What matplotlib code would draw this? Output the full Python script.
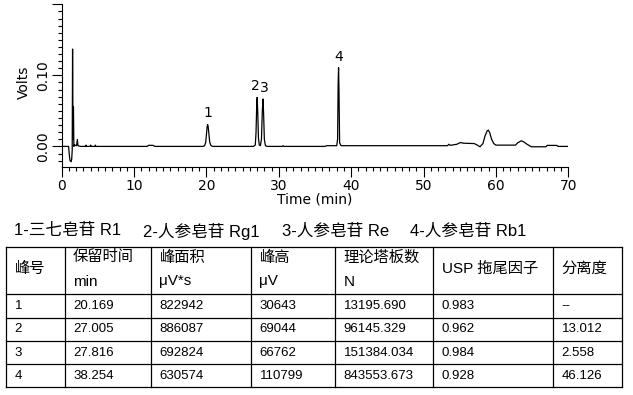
import matplotlib
matplotlib.use("Agg")
import matplotlib.pyplot as plt
from matplotlib.ticker import MultipleLocator, FixedLocator

# -------------------------------------------------
# Data
# -------------------------------------------------

# chromatogram trace (min, volts)
trace_t = [0.0, 0.95, 1.05, 1.15, 1.3, 1.38, 1.45, 1.5, 1.56, 1.62, 1.68, 1.75, 2.05,
           2.16, 2.25, 2.6, 3.3, 3.36, 3.42, 3.95, 4.0, 4.06, 4.6, 4.65, 4.71,
           11.8, 12.0, 12.6, 12.9,
           19.5, 19.75, 19.9, 20.0, 20.1, 20.169, 20.25, 20.35, 20.45, 20.6, 20.8,
           26.5, 26.75, 26.85, 26.95, 27.005, 27.08, 27.18, 27.3, 27.45, 27.6, 27.72,
           27.816, 27.9, 28.0, 28.15, 28.4,
           30.5, 30.6, 30.7, 36.4, 36.6,
           38.0, 38.12, 38.2, 38.254, 38.31, 38.4, 38.6,
           53.3, 53.5, 53.7, 54.6, 55.1, 55.5, 57.0, 57.4, 57.8, 58.2, 58.5, 58.8,
           58.95, 59.15, 59.4, 59.7, 60.0, 62.7, 63.0, 63.5, 63.9, 64.3, 64.9,
           66.9, 67.1, 68.4, 68.6, 70.0]
trace_v = [0.0, 0.0, -0.012, -0.02, -0.0216, -0.018, -0.005, 0.137, 0.01, 0.0555, 0.0, 0.002, 0.001,
           0.0098, 0.001, 0.0, 0.0, 0.0018, 0.0, 0.0, 0.0018, 0.0, 0.0, 0.0018, 0.0,
           0.0, 0.0015, 0.0015, 0.0,
           0.0, 0.001, 0.006, 0.017, 0.028, 0.0306, 0.027, 0.016, 0.006, 0.0015, 0.0,
           0.0, 0.002, 0.02, 0.06, 0.069, 0.05, 0.012, 0.002, 0.001, 0.01, 0.05,
           0.0668, 0.045, 0.01, 0.001, 0.0,
           0.0, 0.001, 0.0, 0.0, 0.001,
           0.001, 0.01, 0.09, 0.1108, 0.08, 0.005, 0.001,
           0.001, 0.003, 0.0015, 0.003, 0.0055, 0.0045, 0.004, 0.002, -0.0005, 0.004, 0.015, 0.022,
           0.0229, 0.019, 0.01, 0.004, 0.0018, 0.0018, 0.005, 0.0079, 0.006, 0.003, -0.0005,
           -0.0005, 0.0014, 0.0014, 0.0, 0.0]

compounds = ["1-三七皂苷 R1", "2-人参皂苷 Rg1", "3-人参皂苷 Re", "4-人参皂苷 Rb1"]

head_top = ["峰号", "保留时间", "峰面积", "峰高", "理论塔板数", "USP 拖尾因子", "分离度"]
head_unit = ["", "min", "μV*s", "μV", "N", "", ""]

peak_no = ["1", "2", "3", "4"]
ret_time = ["20.169", "27.005", "27.816", "38.254"]
area = ["822942", "886087", "692824", "630574"]
height = ["30643", "69044", "66762", "110799"]
plates = ["13195.690", "96145.329", "151384.034", "843553.673"]
tailing = ["0.983", "0.962", "0.984", "0.928"]
resolution = ["--", "13.012", "2.558", "46.126"]

# -------------------------------------------------
# Chromatogram
# -------------------------------------------------

fig = plt.figure(figsize=(6.33, 3.95), dpi=100)
ax = fig.add_axes([0.0975, 0.5772, 0.8003, 0.4119])

ax.plot(trace_t, trace_v, color="black", linewidth=0.9)

# peak numbers above each peak; 2 and 3 sit side by side
rts = [float(t) for t in ret_time]
tops = [int(h) / 1e6 for h in height]
mid23 = (rts[1] + rts[2]) / 2
label_x = [rts[0], mid23, mid23, rts[3]]
label_ha = ["center", "right", "left", "center"]
for no, x, h, ha in zip(peak_no, label_x, tops, label_ha):
    ax.annotate(no, (x, h), xytext=(0, 3), textcoords="offset points",
                ha=ha, va="bottom", fontsize=10, family="DejaVu Sans")

ax.set_xlim(0, 70)
ax.set_ylim(-0.029, 0.2)

for side in ["top", "right"]:
    ax.spines[side].set_visible(False)
for side in ["left", "bottom"]:
    ax.spines[side].set_linewidth(0.8)

ax.xaxis.set_major_locator(MultipleLocator(10))
ax.xaxis.set_minor_locator(MultipleLocator(1))
ax.yaxis.set_major_locator(FixedLocator([0.0, 0.1, 0.2]))
ax.yaxis.set_minor_locator(MultipleLocator(0.01))
ax.set_yticklabels(["0.00", "0.10", ""], rotation=90, va="center")

ax.tick_params(axis="both", which="major", direction="out", length=7, width=0.8,
               labelsize=10, pad=1.5)
ax.tick_params(axis="both", which="minor", direction="out", length=2.6, width=0.8)

ax.set_xlabel("Time (min)", fontsize=10, labelpad=0)
ax.set_ylabel("Volts", fontsize=10)
ax.yaxis.set_label_coords(-0.061, 0.52)

# -------------------------------------------------
# Compound list and result table
# -------------------------------------------------

tab = fig.add_axes([0, 0, 1, 1], zorder=-1)
tab.set_xlim(0, 633)
tab.set_ylim(395, 0)
tab.axis("off")

cjk = ["Liberation Sans", "Noto Sans CJK SC"]

for x, name in zip([14, 143, 282, 410], compounds):
    tab.text(x, 231, name, ha="left", va="center", fontsize=12, family=cjk)

col_edges = [6, 64.5, 151, 251, 335, 433, 553, 622]
row_edges = [247.3, 294, 317.7, 341.3, 364.3, 387.3]

for x in col_edges:
    tab.plot([x, x], [row_edges[0], row_edges[-1]], color="black", linewidth=0.9)
for y in row_edges:
    tab.plot([col_edges[0], col_edges[-1]], [y, y], color="black", linewidth=0.9)

for i, (top, unit) in enumerate(zip(head_top, head_unit)):
    x = col_edges[i] + 8.5
    if unit:
        tab.text(x, 257.5, top, ha="left", va="center", fontsize=11, family=cjk)
        tab.text(x, 281.5, unit, ha="left", va="center", fontsize=11, family=cjk)
    else:
        tab.text(x, 269, top, ha="left", va="center", fontsize=11, family=cjk)

columns = [peak_no, ret_time, area, height, plates, tailing, resolution]
for r in range(len(peak_no)):
    yc = (row_edges[r + 1] + row_edges[r + 2]) / 2
    for c, col in enumerate(columns):
        tab.text(col_edges[c] + 8.5, yc, col[r], ha="left", va="center",
                 fontsize=9.5, family=cjk)

fig.savefig("out.png", dpi=100)
